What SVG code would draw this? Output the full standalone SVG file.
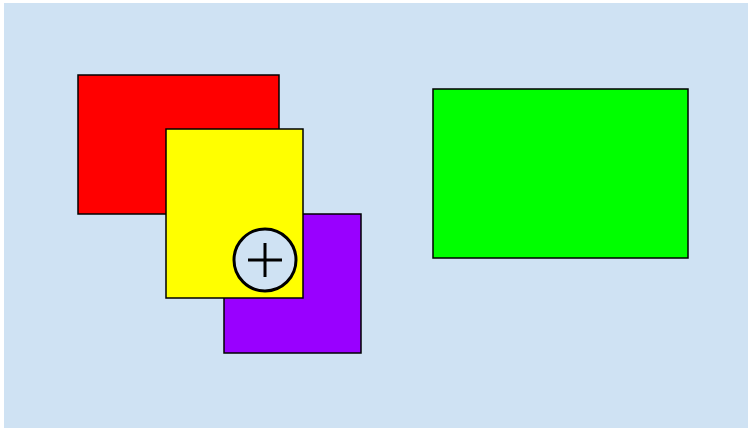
<svg xmlns="http://www.w3.org/2000/svg" width="748" height="428" viewBox="0 0 748 428">
<style>
.box{stroke:#000;stroke-width:1.5}
</style>
<rect x="4" y="3" width="744" height="425" fill="#cfe2f3"/>
<g id="red"><rect class="box" x="78" y="75" width="201" height="139" fill="#ff0000"/></g>
<g id="purple"><rect class="box" x="224" y="214" width="137" height="139" fill="#9900ff"/></g>
<g id="yellow"><rect class="box" x="166" y="129" width="137" height="169" fill="#ffff00"/></g>
<g id="green"><rect class="box" x="433" y="89" width="255" height="169" fill="#00ff00"/></g>
<g id="plus">
<circle cx="265" cy="260" r="31" fill="#cfe2f3" stroke="#000" stroke-width="3"/>
<path d="M248 260H282M265 243V277" stroke="#000" stroke-width="3" fill="none"/>
</g>
<g id="connectors"/>
</svg>
